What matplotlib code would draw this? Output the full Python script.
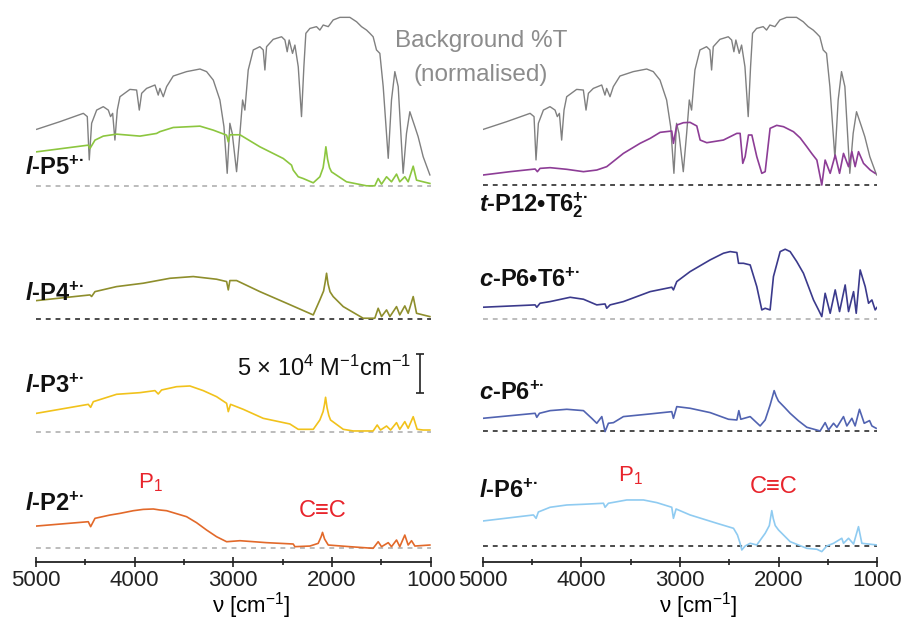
import matplotlib.pyplot as plt
import numpy as np

plt.rcParams['font.family'] = ['Liberation Sans', 'DejaVu Sans']
plt.rcParams['mathtext.fontset'] = 'custom'
plt.rcParams['mathtext.rm'] = 'Liberation Sans'
plt.rcParams['mathtext.it'] = 'Liberation Sans:bold:italic'
plt.rcParams['mathtext.bf'] = 'Liberation Sans:bold'

# background transmission (normalised %T), shared by both panels
bg_wn = [4993, 4757, 4520, 4480, 4460, 4436, 4385, 4318, 4267, 4244, 4223, 4200, 4176, 4149,
         4048, 3980, 3953, 3929, 3879, 3794, 3761, 3744, 3710, 3676, 3609, 3474, 3338, 3271,
         3203, 3136, 3095, 3062, 3035, 3011, 2967, 2933, 2906, 2883, 2849, 2798, 2731, 2697,
         2680, 2663, 2596, 2511, 2477, 2454, 2434, 2400, 2376, 2342, 2309, 2285, 2265, 2224,
         2157, 2123, 2089, 2038, 1988, 1920, 1819, 1751, 1701, 1650, 1616, 1583, 1549, 1515,
         1481, 1430, 1397, 1363, 1329, 1279, 1245, 1211, 1160, 1127, 1076, 1008]
bg_T = [31.1, 35.8, 40.9, 38.9, 12.3, 34.8, 42.9, 45.0, 42.9, 38.9, 40.9, 24.5, 42.9, 51.1,
        55.6, 55.2, 42.9, 53.2, 56.2, 58.3, 52.1, 56.2, 51.1, 57.3, 63.8, 66.5, 68.1, 66.5,
        61.3, 49.1, 32.7, 4.1, 34.8, 28.6, 5.1, 28.6, 49.1, 42.9, 67.5, 79.8, 81.8, 79.8,
        67.5, 81.8, 86.3, 87.9, 85.9, 78.7, 85.9, 77.7, 82.8, 69.5, 38.9, 69.5, 90.0, 93.0,
        94.1, 92.0, 95.1, 94.1, 98.2, 99.8, 99.8, 97.1, 94.1, 92.0, 90.0, 87.9, 79.8, 77.7,
        57.3, 13.3, 49.1, 66.5, 57.3, 4.1, 28.6, 41.9, 32.7, 26.6, 14.3, 3.1]

# left panel: linear oligomers (epsilon in 1e4 M-1 cm-1)
p5_wn = [4993, 4470, 4453, 4402, 4318, 4183, 3946, 3778, 3744, 3609, 3338, 3203, 3068, 3051,
         3035, 2933, 2731, 2494, 2410, 2393, 2342, 2292, 2190, 2123, 2090, 2075, 2062, 2045,
         2025, 2005, 1853, 1650, 1566, 1532, 1498, 1447, 1397, 1346, 1313, 1262, 1228, 1177,
         1143, 1076, 1008]
p5_eps = [4.33, 5.18, 4.75, 5.82, 6.33, 6.58, 6.33, 6.67, 6.9, 7.43, 7.6, 7.09, 6.45, 5.6,
          6.5, 6.5, 4.97, 3.48, 2.63, 2.0, 1.15, 0.93, 0.38, 1.15, 2.3, 3.6, 4.97, 3.4,
          2.3, 1.78, 0.51, 0.0, 0.0, 0.93, 0.21, 1.15, 0.51, 1.49, 0.51, 1.15, 0.51, 2.5,
          0.72, 0.51, 0.3]

p4_wn = [4993, 4453, 4436, 4402, 4183, 3913, 3642, 3406, 3170, 3068, 3051, 3035, 2967, 2731,
         2460, 2190, 2123, 2085, 2068, 2055, 2040, 2020, 1988, 1886, 1684, 1566, 1532, 1498,
         1447, 1413, 1346, 1313, 1262, 1228, 1177, 1143, 1076, 1008]
p4_eps = [2.38, 3.10, 2.9, 3.52, 4.16, 4.59, 5.22, 5.44, 5.10, 4.80, 3.74, 4.93, 4.93, 3.52,
          2.04, 0.55, 2.46, 3.6, 4.8, 5.86, 4.5, 3.5, 2.89, 1.61, 0.13, 0.13, 1.40, 0.34,
          1.19, 0.34, 1.61, 0.55, 1.70, 0.76, 2.89, 0.76, 0.55, 0.34]

p3_wn = [4993, 4470, 4446, 4419, 4183, 3946, 3794, 3761, 3727, 3575, 3440, 3305, 3170, 3068,
         3051, 3028, 2900, 2697, 2427, 2342, 2190, 2123, 2090, 2076, 2065, 2050, 2032, 2015,
         1886, 1785, 1583, 1542, 1508, 1447, 1406, 1346, 1313, 1262, 1228, 1177, 1137, 1076,
         1008]
p3_eps = [2.38, 3.52, 3.14, 3.86, 4.80, 5.01, 5.27, 4.84, 5.35, 5.77, 5.86, 5.27, 4.50, 3.65,
          2.59, 3.52, 2.89, 1.74, 1.02, 0.34, 0.34, 1.53, 2.6, 3.5, 4.42, 3.1, 2.1, 1.53,
          0.34, 0.13, 0.13, 0.89, 0.25, 0.76, 0.25, 1.19, 0.34, 1.32, 0.47, 1.95, 0.34, 0.25,
          0.25]

p2_wn = [4993, 4470, 4446, 4402, 4250, 4149, 4014, 3913, 3811, 3744, 3676, 3575, 3474, 3372,
         3271, 3170, 3068, 2933, 2663, 2393, 2376, 2224, 2140, 2110, 2096, 2075, 2038, 1819,
         1583, 1532, 1498, 1430, 1397, 1346, 1313, 1262, 1228, 1194, 1160, 1008]
p2_eps = [2.76, 3.31, 2.68, 3.74, 4.16, 4.37, 4.71, 4.88, 4.93, 4.8, 4.71, 4.33, 3.95, 3.18,
          2.25, 1.4, 0.76, 0.89, 0.64, 0.47, 0.13, 0.21, 0.55, 1.4, 1.95, 1.1, 0.34, 0.13,
          -0.08, 0.76, 0.13, 0.64, 0.13, 0.98, 0.13, 1.61, 0.34, 0.89, 0.21, 0.34]

# right panel: templated / cyclic species
p12_wn = [5000, 4723, 4469, 4446, 4419, 4317, 4148, 3979, 3844, 3743, 3574, 3405, 3303, 3202,
          3084, 3067, 3033, 2965, 2898, 2830, 2796, 2729, 2560, 2424, 2391, 2364, 2340, 2306,
          2272, 2222, 2171, 2137, 2087, 2020, 1951, 1850, 1782, 1715, 1664, 1613, 1563, 1529,
          1478, 1427, 1383, 1343, 1292, 1258, 1225, 1191, 1140, 1072, 1022]
p12_eps = [1.27, 1.70, 2.04, 1.70, 2.12, 2.21, 2.0, 1.70, 1.91, 2.34, 4.03, 5.31, 5.94, 6.71,
           6.88, 5.31, 7.64, 7.94, 7.98, 7.52, 5.73, 5.39, 5.73, 6.58, 6.58, 2.76, 3.61, 6.37,
           6.37, 3.61, 1.49, 1.70, 7.22, 7.6, 7.43, 6.79, 6.0, 4.88, 4.0, 3.18, 0.0, 3.18,
           1.49, 3.82, 1.49, 4.03, 2.34, 4.25, 2.34, 4.25, 2.76, 1.91, 1.49]

cp6t6_wn = [5000, 4469, 4452, 4419, 4317, 4114, 3979, 3844, 3760, 3743, 3709, 3574, 3303, 3084,
            3067, 3033, 2898, 2695, 2560, 2492, 2424, 2407, 2357, 2289, 2222, 2171, 2137, 2087,
            2053, 1985, 1934, 1884, 1817, 1749, 1698, 1647, 1596, 1563, 1529, 1478, 1427, 1383,
            1326, 1292, 1241, 1214, 1174, 1123, 1089, 1055, 1022, 998]
cp6t6_eps = [1.53, 1.83, 1.53, 2.04, 2.25, 2.80, 2.55, 1.83, 1.95, 1.40, 1.83, 2.25, 3.52, 4.08,
             3.74, 4.80, 6.07, 7.56, 8.41, 8.62, 8.5, 7.13, 7.13, 6.92, 4.16, 1.19, 1.40, 1.19,
             5.44, 8.62, 8.92, 8.62, 7.35, 5.86, 4.16, 2.46, 1.19, 0.34, 3.31, 0.76, 3.74, 0.98,
             4.37, 0.98, 3.52, 0.76, 6.28, 4.16, 2.04, 2.46, 1.19, 1.6]

cp6_wn = [5000, 4469, 4452, 4425, 4317, 4148, 3979, 3895, 3844, 3793, 3760, 3726, 3675, 3574,
          3303, 3084, 3067, 3033, 2898, 2695, 2509, 2424, 2404, 2384, 2289, 2188, 2137, 2087,
          2060, 2046, 2025, 2002, 1940, 1884, 1800, 1715, 1580, 1529, 1495, 1444, 1410, 1343,
          1309, 1258, 1225, 1181, 1133, 1079, 1055, 1012]
cp6_eps = [1.61, 2.25, 1.74, 2.25, 2.59, 2.76, 2.59, 1.61, 0.98, 1.83, -0.08, 0.98, 1.06, 1.83,
           2.17, 2.46, 1.61, 3.10, 2.89, 2.34, 1.49, 1.40, 2.59, 1.49, 1.83, 0.64, 1.40, 3.3,
           4.5, 5.14, 4.4, 3.8, 3.0, 2.25, 1.3, 0.47, 0.0, 1.06, 0.13, 0.98, 0.47, 1.83,
           0.64, 1.61, 0.64, 2.76, 0.98, 1.32, 0.64, 0.34]

lp6_wn = [5000, 4486, 4459, 4436, 4317, 4148, 3979, 3776, 3760, 3726, 3540, 3371, 3235, 3084,
          3067, 3040, 2898, 2627, 2458, 2418, 2391, 2374, 2340, 2289, 2222, 2137, 2095, 2082,
          2070, 2055, 2035, 2002, 1884, 1715, 1613, 1563, 1512, 1444, 1360, 1343, 1292, 1241,
          1191, 1157, 1005]
lp6_eps = [3.18, 3.95, 3.52, 4.33, 4.93, 5.22, 5.31, 5.44, 4.93, 5.44, 5.86, 5.86, 5.52, 4.93,
           3.52, 4.71, 3.95, 2.89, 2.25, 1.40, 0.34, -0.51, 0.0, 0.34, 0.13, 1.61, 2.6, 3.6,
           4.50, 3.5, 2.6, 2.04, 0.55, -0.30, -0.42, -0.72, 0.0, 0.34, 0.98, 0.34, 0.98, 0.25,
           2.46, 0.34, 0.13]

left_names = [r'$\mathit{l}$-P5$^{\mathregular{+·}}$', r'$\mathit{l}$-P4$^{\mathregular{+·}}$',
              r'$\mathit{l}$-P3$^{\mathregular{+·}}$', r'$\mathit{l}$-P2$^{\mathregular{+·}}$']
right_names = [r'$\mathit{t}$-P12•T6$_{\mathregular{2}}^{\mathregular{+·}}$',
               r'$\mathit{c}$-P6•T6$^{\mathregular{+·}}$',
               r'$\mathit{c}$-P6$^{\mathregular{+·}}$', r'$\mathit{l}$-P6$^{\mathregular{+·}}$']

left_traces = [(p5_wn, p5_eps), (p4_wn, p4_eps), (p3_wn, p3_eps), (p2_wn, p2_eps)]
right_traces = [(p12_wn, p12_eps), (cp6t6_wn, cp6t6_eps), (cp6_wn, cp6_eps), (lp6_wn, lp6_eps)]

left_colors = ['#8cc63f', '#8e8e2c', '#f1c21b', '#e2692a']
right_colors = ['#8d3d96', '#3b3a8c', '#5163b1', '#8fcbf1']
left_offsets = [46.1, 29.1, 14.74, 0.0]
right_offsets = [46.2, 29.1, 14.87, 0.22]
left_dash = ['#aaaaaa', '#1a1a1a', '#aaaaaa', '#aaaaaa']
right_dash = ['#1a1a1a', '#aaaaaa', '#1a1a1a', '#1a1a1a']
left_label_y = [47.5, 31.5, 19.7, 4.7]
right_label_y = [42.9, 33.2, 18.8, 6.3]

bg_off = 46.84
bg_scale = 0.2076
red = '#e8242c'

fig = plt.figure(figsize=(9.04, 6.22), dpi=100)
ax_l = fig.add_axes([0.0398, 0.0965, 0.4366, 0.8842])
ax_r = fig.add_axes([0.534, 0.0965, 0.4365, 0.8842])


def style_axis(ax):
    ax.set_xlim(5000, 1000)
    ax.set_ylim(-1.82, 68.24)
    for s in ['left', 'right', 'top']:
        ax.spines[s].set_visible(False)
    ax.spines['bottom'].set_linewidth(1.3)
    ax.spines['bottom'].set_color('#222222')
    ax.set_yticks([])
    ax.set_xticks([5000, 4000, 3000, 2000, 1000])
    ax.set_xticks([4500, 3500, 2500, 1500], minor=True)
    ax.tick_params(axis='x', which='major', direction='inout', length=7, width=1.2,
                   labelsize=16, pad=2, colors='#222222')
    ax.tick_params(axis='x', which='minor', direction='inout', length=4, width=1.2,
                   colors='#222222')
    ax.set_xlabel(r'ν [cm$^{\mathregular{-1}}$]', fontsize=16)
    ax.xaxis.set_label_coords(0.545, -0.052)
    ax.patch.set_alpha(0)


def draw_panel(ax, traces, colors, offsets, dashes, names, label_x, label_y):
    bg = bg_off + bg_scale * np.array(bg_T)
    ax.plot(bg_wn, bg, color='#808080', lw=1.0, zorder=2)
    for (wn, eps), c, off, dc, name, ly in zip(traces, colors, offsets, dashes, names, label_y):
        ax.axhline(off, color=dc, lw=1.1, ls=(0, (3.2, 3.2)), zorder=1)
        ax.plot(wn, off + np.array(eps), color=c, lw=1.2, zorder=3)
        ax.text(label_x, ly, name, fontsize=17, fontweight='bold', color='#111111',
                ha='left', va='baseline', clip_on=False)
    style_axis(ax)


draw_panel(ax_l, left_traces, left_colors, left_offsets, left_dash, left_names, 5112, left_label_y)
draw_panel(ax_r, right_traces, right_colors, right_offsets, right_dash, right_names, 5038, right_label_y)

# band assignments
ax_l.text(3967, 7.57, r'P$_{\mathregular{1}}$', color=red, fontsize=16, ha='left', va='baseline')
ax_l.text(2090, 3.87, 'C≡C', color=red, fontsize=17, ha='center', va='baseline')
ax_r.text(3625, 8.4, r'P$_{\mathregular{1}}$', color=red, fontsize=16, ha='left', va='baseline')
ax_r.text(2056, 6.93, 'C≡C', color=red, fontsize=17, ha='center', va='baseline')

# scale bar for extinction coefficient
ax_l.errorbar([1110], [22.2], yerr=[2.5], color='#222222', lw=1.2, capsize=3, capthick=1.2)
ax_l.text(1194, 22.9, r'5 × 10$^{\mathregular{4}}$ M$^{\mathregular{-1}}$cm$^{\mathregular{-1}}$',
          fontsize=17, ha='right', va='center', color='#111111')

fig.text(0.532, 0.934, 'Background %T', fontsize=17.5, color='#8c8c8c', ha='center', va='center')
fig.text(0.532, 0.88, '(normalised)', fontsize=17.5, color='#8c8c8c', ha='center', va='center')

fig.savefig('out.png', dpi=100)
